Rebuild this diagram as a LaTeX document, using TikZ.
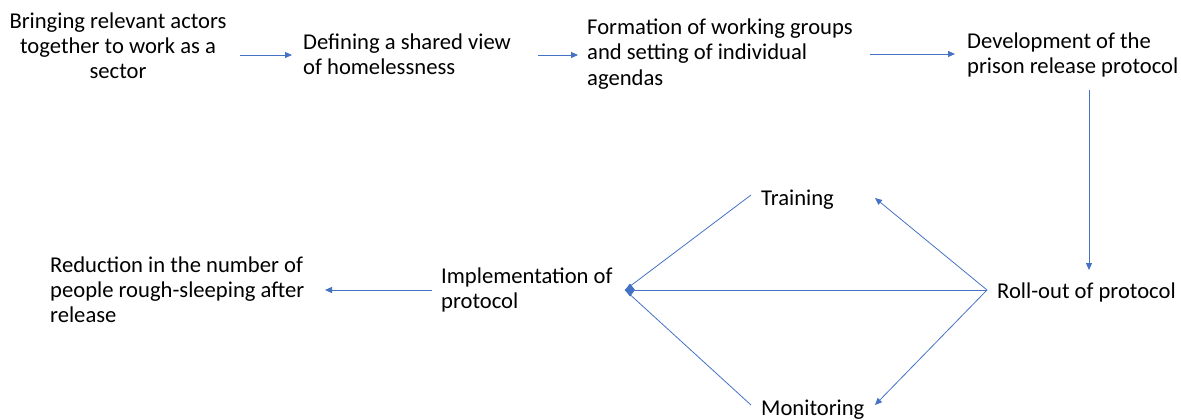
\documentclass[tikz,border=0pt]{standalone}
\usepackage{fontspec}
\setmainfont{Carlito}
\usetikzlibrary{arrows.meta}
\definecolor{lineblue}{HTML}{4472C4}
\tikzset{
  txt/.style={inner sep=0pt,align=left,font=\fontsize{22.7}{25.3}\selectfont},
  flow/.style={draw=lineblue,line width=0.8bp,-{Triangle[length=7bp,width=6bp]}},
  link/.style={draw=lineblue,line width=0.8bp}
}
\begin{document}
\begin{tikzpicture}[x=1bp,y=-1bp]
\useasboundingbox (0,0) rectangle (1181,419);
\node[txt,align=center](bring) at (118,46){Bringing relevant actors\\together to work as a\\sector};
\node[txt,anchor=west](define) at (303,54){Defining a shared view\\of homelessness};
\node[txt,anchor=west](groups) at (587,54){Formation of working groups\\and setting of individual\\agendas};
\node[txt,anchor=west](devel) at (967,55){Development of the\\prison release protocol};
\node[txt,anchor=west](roll) at (997,292){Roll-out of protocol};
\node[txt,anchor=west](train) at (761,200){Training};
\node[txt,anchor=west](monitor) at (761,410){Monitoring};
\node[txt,anchor=west](impl) at (441,290){Implementation of\\protocol};
\node[txt,anchor=west](reduce) at (50,290){Reduction in the number of\\people rough-sleeping after\\release};
\coordinate(fork) at (987,290);
\coordinate(hub) at (625,290);
% top row
\draw[flow](240,55)--(292,55);
\draw[flow](538,55)--(578,55);
\draw[flow](870,54)--(955,54);
\draw[flow](1089,90)--(1089,270);
% from roll-out
\draw[flow](fork)--(875,198);
\draw[flow](fork)--(875,405);
\draw[link,-{Diamond[length=10bp,width=13bp]}](fork)--(hub);
\draw[link](751,195)--(hub);
\draw[link](751,405)--(hub);
\draw[flow](432,290)--(325,290);
\end{tikzpicture}
\end{document}
